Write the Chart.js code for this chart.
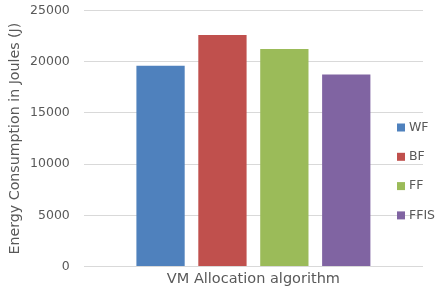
<!DOCTYPE html>
<html>
<head>
<meta charset="utf-8">
<script src="https://cdn.jsdelivr.net/npm/chart.js@4"></script>
<style>
  html, body { margin: 0; padding: 0; background: #fff; }
  #wrap { width: 441px; height: 290px; }
</style>
</head>
<body>
<div id="wrap"><canvas id="energyChart" width="441" height="290"></canvas></div>
<script>
const algorithms = ['WF', 'BF', 'FF', 'FFIS'];
const energyValues = [19600, 22600, 21250, 18750];
const barColors = ['#4f81bd', '#c0504d', '#9bbb59', '#8064a2'];
const xTitle = 'VM Allocation algorithm';
const yTitle = 'Energy Consumption in Joules (J)';

const textColor = '#595959';
const fontFamily = '"DejaVu Sans", sans-serif';

// legend drawn inside the plot area, on the right, like the original
const insideLegend = {
    id: 'insideLegend',
    afterDatasetsDraw(chart) {
        const ctx = chart.ctx;
        const area = chart.chartArea;
        ctx.save();
        ctx.font = '12.5px ' + fontFamily;
        ctx.textBaseline = 'middle';
        chart.data.datasets.forEach(function(ds, i) {
            const y = area.top + 117 + i * 29.3;
            const x = area.right - 26;
            ctx.fillStyle = ds.backgroundColor;
            ctx.fillRect(x, y - 4, 8, 8);
            ctx.fillStyle = textColor;
            ctx.fillText(ds.label, x + 12, y);
        });
        ctx.restore();
    }
};

const ctx = document.getElementById('energyChart').getContext('2d');
new Chart(ctx, {
    type: 'bar',
    data: {
        labels: [''],
        datasets: algorithms.map(function(name, i) {
            return {
                label: name,
                data: [energyValues[i]],
                backgroundColor: barColors[i],
                categoryPercentage: 0.73,
                barPercentage: 0.78
            };
        })
    },
    options: {
        responsive: false,
        animation: false,
        layout: { padding: { top: 0, right: 18, left: 7, bottom: 2 } },
        plugins: {
            legend: { display: false },
            tooltip: { enabled: false }
        },
        scales: {
            x: {
                grid: { display: false, drawTicks: false },
                border: { display: false },
                ticks: { display: false },
                title: {
                    display: true,
                    text: xTitle,
                    color: textColor,
                    font: { family: fontFamily, size: 14.5 },
                    padding: { top: 4, bottom: 0 }
                }
            },
            y: {
                min: 0,
                max: 25000,
                ticks: {
                    stepSize: 5000,
                    color: textColor,
                    font: { family: fontFamily, size: 12.5 },
                    padding: 3,
                    callback: function(v) { return String(v); }
                },
                grid: { color: '#d9d9d9', tickLength: 11, tickColor: 'rgba(0,0,0,0)' },
                border: { display: false },
                title: {
                    display: true,
                    text: yTitle,
                    color: textColor,
                    font: { family: fontFamily, size: 14.2 },
                    padding: { top: 0, bottom: 3 }
                }
            }
        }
    },
    plugins: [insideLegend]
});
</script>
</body>
</html>
